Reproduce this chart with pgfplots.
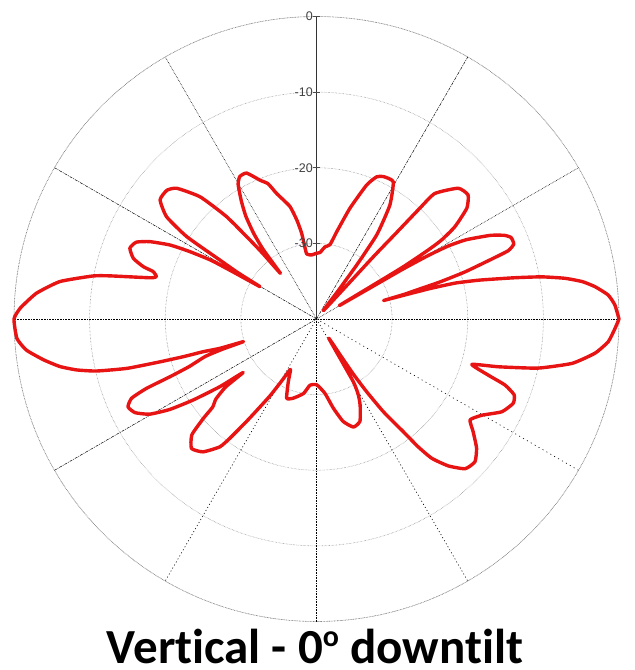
\documentclass[border=0pt]{standalone}
\usepackage{fontspec}
\setmainfont{Liberation Sans}
\newfontfamily\titlefont[Ligatures=NoCommon]{Carlito}
\usepackage{pgfplots}
\pgfplotsset{compat=1.18}
\usepgfplotslibrary{polar}

\definecolor{patred}{RGB}{232,20,20}

% vertical radiation pattern, angle in degrees, level in dB
\pgfplotstableread{
ang   db
0     0.0
2.7   -0.5
4.7   -1.3
6.6   -2.9
8.0   -4.5
9.3   -6.7
10.6  -9.7
11.75 -13.2
13.4  -17.8
14.5  -21.0
15.0  -24.3
15.2  -27.5
15.4  -30.8
15.7  -28.0
16.1  -26.4
16.7  -23.0
17.6  -19.4
18.8  -15.8
19.6  -13.1
20.8  -12.1
22.7  -12.1
24.0  -12.8
25.7  -14.5
27.9  -17.6
29.0  -20.1
29.6  -23.0
30.0  -27.0
30.5  -36.5
31.0  -27.0
31.7  -22.6
32.3  -20.4
33.7  -18.0
36.4  -15.3
39.3  -14.1
42.7  -14.5
46.7  -17.2
47.0  -20.0
47.2  -24.8
47.6  -29.0
50.0  -38.5
52.5  -35.5
53.3  -31.1
54.4  -26.3
57.2  -22.1
60.8  -19.2
64.9  -19.2
67.1  -19.6
69.5  -21.1
73.2  -24.7
77.0  -28.2
79.7  -30.0
83.3  -30.4
87.0  -31.2
90.0  -31.3
94.3  -31.5
98.6  -31.3
99.3  -30.0
99.8  -28.5
100.5 -27.6
101.3 -26.6
103.3 -24.7
107.6 -22.6
109.7 -21.0
112.1 -20.2
115.6 -18.6
118.3 -18.6
120.2 -19.4
122.5 -21.5
124.5 -23.5
126.3 -26.0
127.5 -28.5
128.3 -32.3
129.3 -29.0
129.9 -27.0
131.3 -22.0
133.6 -17.7
136.9 -14.7
139.3 -13.9
142.7 -14.0
145.7 -16.0
147.6 -19.7
148.6 -25.0
149.5 -28.0
150.2 -31.4
150.6 -27.0
150.9 -24.0
152.0 -21.0
153.2 -18.3
155.1 -15.7
156.9 -14.1
159.2 -13.6
161.7 -14.5
163.2 -16.1
163.8 -17.5
165.2 -18.1
166.1 -17.3
168.2 -12.1
169.1 -9.9
171.7 -5.7
174.75 -2.8
177.9 -0.8
180.0 0.0
183.7 -0.3
186.1 -1.4
188.5 -3.5
190.5 -5.5
192.0 -7.6
193.3 -10.1
194.6 -14.1
195.3 -18.5
195.8 -21.7
196.1 -24.4
196.9 -26.7
197.2 -29.9
197.8 -27.0
198.6 -24.5
200.5 -22.0
201.5 -19.2
202.2 -15.7
203.2 -13.4
205.0 -12.5
207.3 -13.0
209.7 -14.6
211.65 -17.2
213.3 -20.5
215.0 -24.4
216.1 -28.0
216.8 -25.0
218.5 -23.0
220.3 -22.0
221.3 -20.1
222.9 -17.5
226.0 -16.2
229.5 -16.9
232.9 -18.8
234.0 -20.5
235.9 -24.0
238.8 -28.1
241.0 -31.0
242.7 -32.5
245.8 -30.9
249.4 -28.8
253.7 -29.1
260.1 -30.0
264.4 -31.2
270.2 -31.3
276.5 -30.1
280.7 -28.0
284.6 -26.0
288.9 -24.9
293.0 -25.3
296.8 -27.2
298.8 -28.5
300.4 -30.4
302.5 -37.0
303.5 -33.7
303.8 -31.1
304.6 -28.3
305.8 -24.9
307.6 -21.2
308.5 -18.4
309.6 -16.1
311.9 -13.9
314.8 -12.1
318.0 -11.8
321.1 -12.8
324.3 -14.5
326.7 -15.7
329.8 -14.7
333.4 -12.6
336.8 -11.7
339.0 -12.0
340.7 -13.6
341.9 -16.1
343.7 -18.6
345.3 -15.1
347.5 -10.0
350.15 -5.7
353.0 -2.9
355.55 -1.3
358.2 -0.5
360.0 0.0
}\pattern

\tikzset{lvl/.style={anchor=east, inner sep=0pt, text=black!75, font=\fontsize{12.5}{12.5}\selectfont}}

\begin{document}
\begin{tikzpicture}
\begin{polaraxis}[
    width=605pt, height=605pt,
    scale only axis,
    xmin=0, xmax=360,
    ymin=-40, ymax=0,
    y coord trafo/.code={\pgfmathparse{#1+40}},
    y coord inv trafo/.code={\pgfmathparse{#1-40}},
    xtick=\empty,
    ytick={-30,-20,-10,0},
    yticklabels={},
    ymajorgrids,
    major y grid style={gray, densely dotted, line width=0.6pt},
    axis line style={gray, densely dotted, line width=0.6pt},
    major tick length=0pt,
    clip=false,
]
% spokes
\addplot[black, densely dotted, line width=0.6pt] coordinates {(0,-40) (0,0)};
\addplot[black, densely dotted, line width=0.6pt] coordinates {(180,-40) (180,0)};
\addplot[black!80, line width=0.7pt] coordinates {(90,-40) (90,0)};
\addplot[black, densely dotted, line width=0.6pt] coordinates {(270,-40) (270,0)};
\addplot[black, densely dotted, line width=0.6pt] coordinates {(30,-40) (30,0)};
\addplot[black, dash pattern=on 3pt off 1pt on 1pt off 1pt, line width=0.5pt] coordinates {(60,-40) (60,0)};
\addplot[black, densely dotted, line width=0.6pt] coordinates {(120,-40) (120,0)};
\addplot[black, dash pattern=on 3pt off 1pt on 1pt off 1pt, line width=0.5pt] coordinates {(150,-40) (150,0)};
\addplot[black, dash pattern=on 3pt off 1pt on 1pt off 1pt, line width=0.5pt] coordinates {(210,-40) (210,0)};
\addplot[black, dash pattern=on 1pt off 2.5pt, line width=0.6pt] coordinates {(240,-40) (240,0)};
\addplot[black, dash pattern=on 1pt off 2.5pt, line width=0.6pt] coordinates {(300,-40) (300,0)};
\addplot[black, dash pattern=on 1pt off 3.5pt, line width=0.6pt] coordinates {(330,-40) (330,0)};

% pattern
\addplot[patred, line width=3.4pt, smooth, tension=0.3, line join=round, line cap=round] table[x=ang, y=db] {\pattern};

% level labels on the vertical axis
\coordinate (l0) at (axis cs:90,0);
\coordinate (l1) at (axis cs:90,-10);
\coordinate (l2) at (axis cs:90,-20);
\coordinate (l3) at (axis cs:90,-30);
\coordinate (c) at (axis cs:0,-40);
\end{polaraxis}
\foreach \p/\lab in {l0/0,l1/-10,l2/-20,l3/-30}{
  \draw[black!70, line width=0.6pt] ([xshift=-3.5pt]\p) -- ([xshift=3.5pt]\p);
  \node[lvl] at ([xshift=-3.5pt]\p) {\lab};
}
\pgfresetboundingbox
\path[use as bounding box] ([shift={(-316.5pt,319pt)}]c) rectangle ([shift={(318.5pt,-351pt)}]c);
\node[anchor=base, inner sep=0pt, font=\titlefont\bfseries\fontsize{49}{49}\selectfont]
  at ([shift={(-1.5pt,-344.3pt)}]c) {Vertical - 0\raisebox{17pt}{\fontsize{30}{30}\selectfont o} downtilt};
\end{tikzpicture}
\end{document}
